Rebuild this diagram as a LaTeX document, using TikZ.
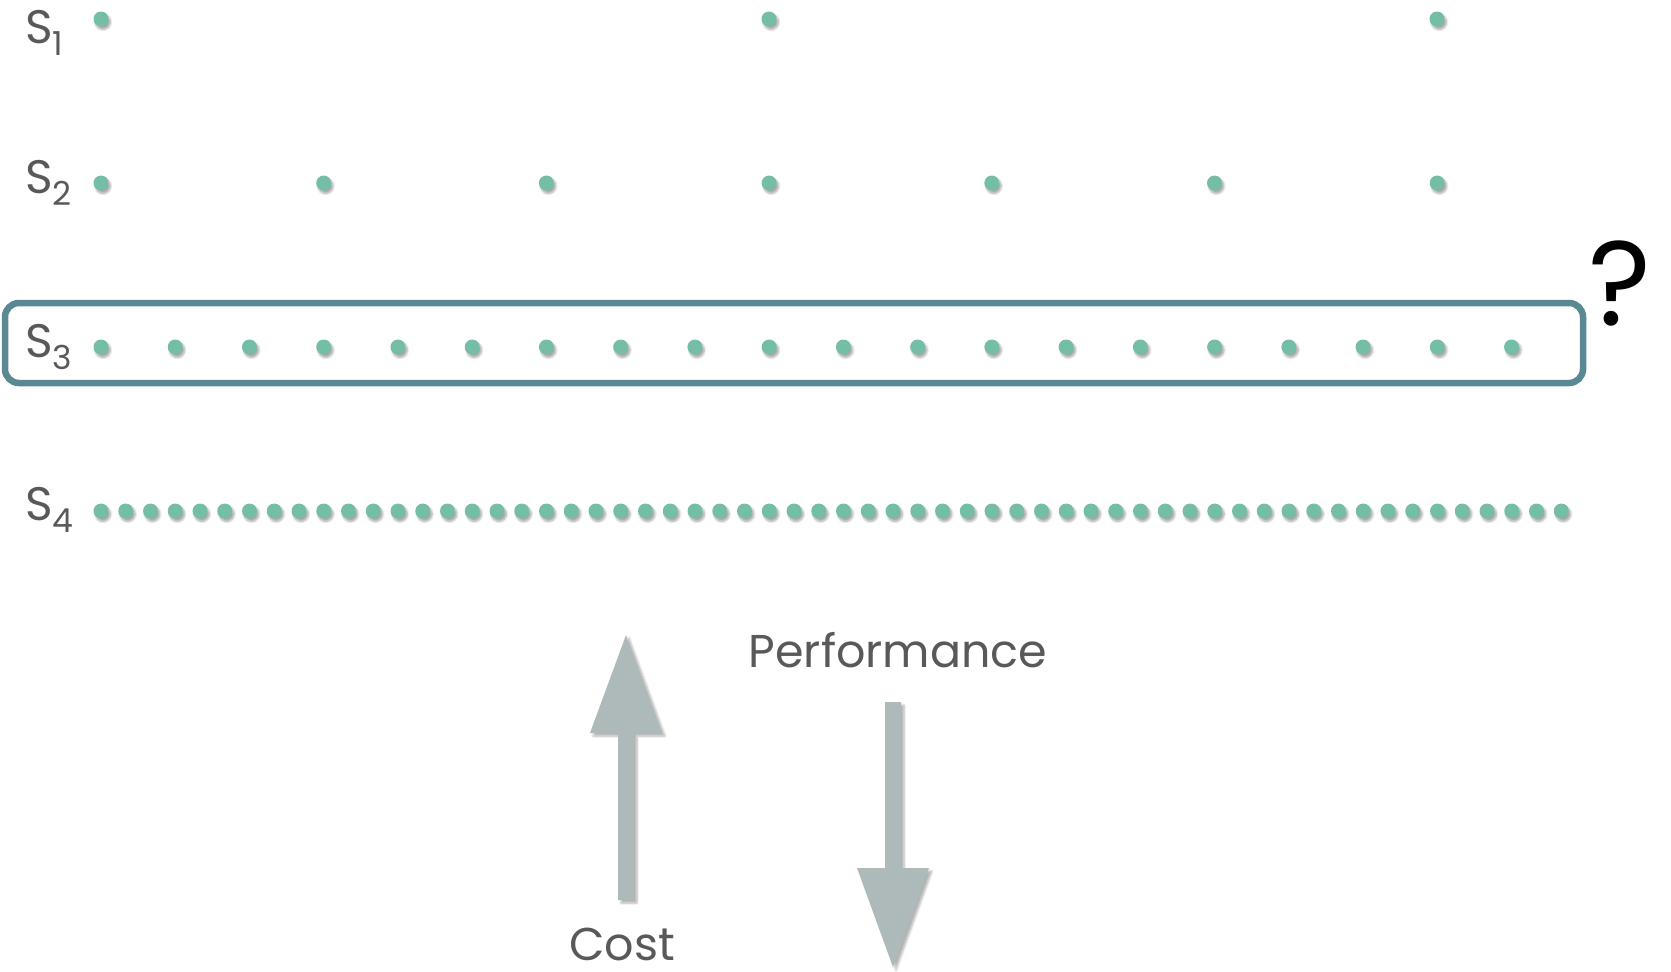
\documentclass[tikz,border=0pt]{standalone}
\usepackage{fontspec}
\setmainfont{Poppins}
\usetikzlibrary{shadows.blur}

\definecolor{dotgreen}{HTML}{74BDA6}
\definecolor{boxteal}{HTML}{5A8893}
\definecolor{arrowgray}{HTML}{AEBABA}
\definecolor{textgray}{HTML}{595959}

\tikzset{
  sdot/.style={circle,fill=dotgreen,inner sep=0pt,minimum size=15pt,
    blur shadow={shadow xshift=2pt,shadow yshift=-3pt,shadow blur steps=6,shadow opacity=35}},
  slabel/.style={anchor=base west,text=textgray,inner sep=0pt,font=\fontsize{47}{47}\selectfont},
  bigarrow/.style={fill=arrowgray,
    blur shadow={shadow xshift=3pt,shadow yshift=-3pt,shadow blur steps=6,shadow opacity=30}},
  caption/.style={anchor=base,text=textgray,inner sep=0pt,font=\fontsize{46}{46}\selectfont}
}
\newcommand{\stagesub}[1]{S\raisebox{-12pt}{\fontsize{33}{33}\selectfont #1}}

\begin{document}
\begin{tikzpicture}[x=1pt,y=-1pt]
\useasboundingbox (0,0) rectangle (1671,972);

\node [slabel] (s1) at (25,43) {\stagesub{1}};
\node [slabel] (s2) at (25,193) {\stagesub{2}};
\node [slabel] (s3) at (25,357) {\stagesub{3}};
\node [slabel] (s4) at (25,520) {\stagesub{4}};

\foreach \i in {0,...,2}
  \node [sdot] (s1dot\i) at (101+\i*668,19) {};
\foreach \i in {0,...,6}
  \node [sdot] (s2dot\i) at (101+\i*222.7,183) {};
\foreach \i in {0,...,19}
  \node [sdot] (s3dot\i) at (101+\i*74.24,347) {};
\foreach \i in {0,...,59}
  \node [sdot] (s4dot\i) at (101+\i*24.75,511) {};

\node [draw=boxteal,line width=6.5pt,rounded corners=14pt,
  minimum width=1578pt,minimum height=80pt] (pick) at (794,343) {};
\node [anchor=base west,inner sep=0pt,font=\fontsize{120}{120}\selectfont] (ask) at (1588,325) {?};

\coordinate (costfoot) at (626,900);
\fill [bigarrow] (costfoot) ++(-8,0) -- ++(16,0) -- ++(0,-167) -- ++(28,0)
  -- ++(-36,-98) -- ++(-36,98) -- ++(28,0) -- cycle;
\coordinate (perftop) at (893,702);
\fill [bigarrow] (perftop) ++(-8,0) -- ++(16,0) -- ++(0,166) -- ++(28,0)
  -- ++(-36,99) -- ++(-36,-99) -- ++(28,0) -- cycle;

\node [caption] (cost) at (622,960) {Cost};
\node [caption] (perf) at (898,667) {Performance};
\end{tikzpicture}
\end{document}
